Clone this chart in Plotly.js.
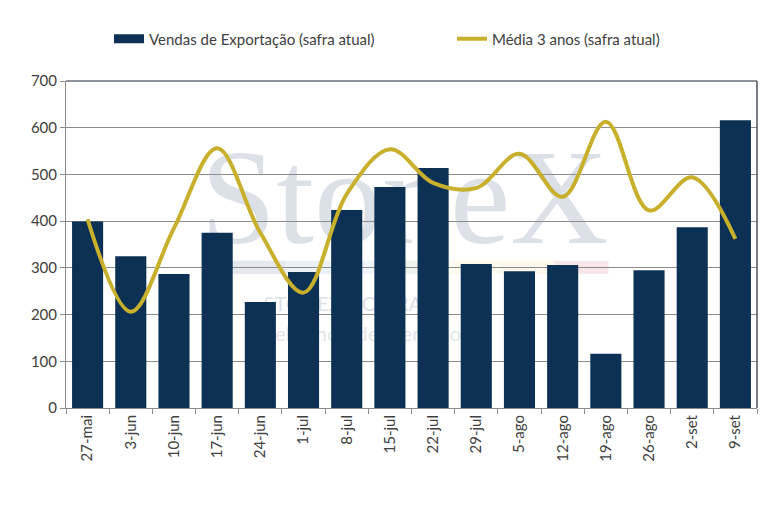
<!DOCTYPE html>
<html>
<head>
<meta charset="utf-8">
<script src="https://cdn.plot.ly/plotly-3.0.1.min.js"></script>
<style>
  html, body { margin: 0; padding: 0; background: #fff; }
  #chart { width: 780px; height: 519px; }
</style>
</head>
<body>
<div id="chart"></div>
<script>
// semanas
var semanas = ['27-mai', '3-jun', '10-jun', '17-jun', '24-jun', '1-jul', '8-jul', '15-jul',
               '22-jul', '29-jul', '5-ago', '12-ago', '19-ago', '26-ago', '2-set', '9-set'];

// vendas de exportação (safra atual)
var vendas = [399, 325, 287, 375, 227, 291, 424, 473, 514, 308, 293, 306, 116, 295, 387, 616];

// média 3 anos (safra atual)
var media3 = [404, 206, 385, 556, 375, 247, 458, 554, 482, 471, 544, 452, 613, 423, 494, 362];

var azul = '#0c3155';
var ouro = '#c8b02d';
var txt = '#404040';

var trVendas = {
  x: semanas, y: vendas, type: 'bar',
  name: 'Vendas de Exportação (safra atual)',
  marker: { color: azul },
  showlegend: false,
  hoverinfo: 'x+y'
};

// só para a legenda: retângulo largo como no Excel
var trVendasLeg = {
  x: [null], y: [null], type: 'scatter', mode: 'lines',
  name: 'Vendas de Exportação (safra atual)',
  line: { color: azul, width: 9 },
  legend: 'legend', hoverinfo: 'skip'
};

var trMedia = {
  x: semanas, y: media3, type: 'scatter', mode: 'lines',
  name: 'Média 3 anos (safra atual)',
  line: { color: ouro, width: 4, shape: 'spline', smoothing: 1 },
  legend: 'legend2',
  hoverinfo: 'x+y'
};

// marca d'água (atrás das barras)
var faixa = ['rgba(180,190,205,0.35)', 'rgba(200,215,235,0.35)', 'rgba(215,230,245,0.35)',
             'rgba(205,225,210,0.35)', 'rgba(250,245,215,0.4)', 'rgba(252,235,205,0.4)',
             'rgba(240,200,205,0.45)'];
var shapes = [];
var x0 = 0.24, passo = (0.785 - 0.24) / faixa.length;
faixa.forEach(function (c, i) {
  shapes.push({ type: 'rect', xref: 'paper', yref: 'paper', layer: 'below',
    x0: x0 + i * passo, x1: x0 + (i + 1) * passo, y0: 0.41, y1: 0.45,
    fillcolor: c, line: { width: 0 } });
});
shapes.push({ type: 'rect', xref: 'paper', yref: 'paper', layer: 'below',
  x0: 0.18, x1: 0.80, y0: 0.5, y1: 0.88, fillcolor: 'rgba(0,0,0,0)', line: { width: 0 },
  label: { text: 'StoneX', font: { family: 'Liberation Serif, DejaVu Serif, serif', size: 136,
    color: 'rgba(205,212,222,0.7)' }, textposition: 'middle center' } });
shapes.push({ type: 'rect', xref: 'paper', yref: 'paper', layer: 'below',
  x0: 0.24, x1: 0.6, y0: 0.28, y1: 0.36, fillcolor: 'rgba(0,0,0,0)', line: { width: 0 },
  label: { text: 'STONEX DO BRASIL', font: { family: 'Lato, sans-serif', size: 20,
    color: 'rgba(210,216,226,0.8)' }, textposition: 'middle center' } });
shapes.push({ type: 'rect', xref: 'paper', yref: 'paper', layer: 'below',
  x0: 0.24, x1: 0.6, y0: 0.19, y1: 0.27, fillcolor: 'rgba(0,0,0,0)', line: { width: 0 },
  label: { text: 'Inteligência de Mercado', font: { family: 'Lato, sans-serif', size: 20,
    color: 'rgba(218,222,230,0.8)' }, textposition: 'middle center' } });

// borda superior e direita
shapes.push({ type: 'line', xref: 'paper', yref: 'paper', x0: 0, x1: 1, y0: 1, y1: 1,
  line: { color: '#1c2838', width: 1.2 } });
shapes.push({ type: 'line', xref: 'paper', yref: 'paper', x0: 1, x1: 1, y0: 0, y1: 1,
  line: { color: '#1c2838', width: 1.2 } });

var legendaBase = {
  orientation: 'h', xref: 'container', xanchor: 'left',
  yref: 'container', y: 0.925, yanchor: 'middle',
  font: { size: 15, color: txt }, itemwidth: 30
};

var layout = {
  width: 780, height: 519,
  margin: { l: 66, r: 23, t: 81, b: 111 },
  paper_bgcolor: '#ffffff', plot_bgcolor: '#ffffff',
  font: { family: 'Lato, "Noto Sans", sans-serif', size: 15, color: txt },
  bargap: 0.28,
  showlegend: true,
  legend: Object.assign({}, legendaBase, { x: 109 / 780 }),
  legend2: Object.assign({}, legendaBase, { x: 452 / 780 }),
  xaxis: {
    type: 'category', tickangle: -90,
    showline: true, linecolor: '#8c8c8c', linewidth: 1,
    ticks: 'outside', tickson: 'boundaries', ticklen: 5, tickcolor: '#8c8c8c',
    showgrid: false, tickfont: { size: 15, color: txt }
  },
  yaxis: {
    range: [0, 700], dtick: 100, tick0: 0,
    showline: true, linecolor: '#8c8c8c', linewidth: 1,
    ticks: 'outside', ticklen: 5, tickcolor: '#8c8c8c',
    showgrid: true, gridcolor: '#8c8c8c', gridwidth: 1,
    zeroline: false, tickfont: { size: 15, color: txt }
  },
  shapes: shapes
};

Plotly.newPlot('chart', [trVendas, trVendasLeg, trMedia], layout, { displayModeBar: false, staticPlot: true });
</script>
</body>
</html>
